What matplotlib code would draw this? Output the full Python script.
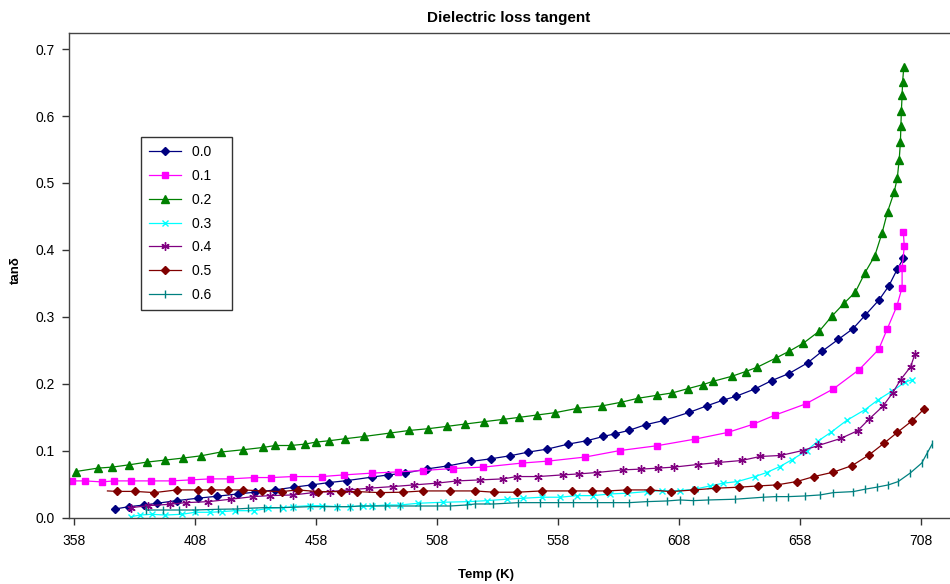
import numpy as np
import matplotlib
matplotlib.use('Agg')
import matplotlib.pyplot as plt

plt.rcParams['font.family'] = ['Liberation Sans', 'DejaVu Sans']

# Data (Temp in K, tan delta)
t_00 = [374.8, 380.6, 386.9, 392.3, 400.3, 409.0, 417.1, 425.5, 432.7, 441.0, 448.7, 456.1, 463.3, 470.8,
        480.9, 487.8, 494.7, 503.9, 512.6, 521.9, 530.1, 538.1, 545.7, 553.5, 562.2, 569.8, 576.7, 581.6,
        587.2, 594.2, 601.9, 612.2, 619.7, 626.0, 631.5, 639.4, 646.3, 653.4, 661.2, 667.2, 673.8, 679.9,
        684.9, 690.7, 694.7, 698.2, 700.7]
d_00 = [0.0127, 0.0162, 0.0187, 0.0213, 0.0252, 0.0288, 0.0318, 0.0352, 0.0378, 0.0412, 0.0453, 0.0487, 0.0522, 0.0552,
        0.0603, 0.0637, 0.0663, 0.0727, 0.0772, 0.0837, 0.0877, 0.0922, 0.0978, 0.1022, 0.1097, 0.1147, 0.1211, 0.1252,
        0.1301, 0.1387, 0.1451, 0.1571, 0.1672, 0.1751, 0.1811, 0.1922, 0.2046, 0.2151, 0.2312, 0.2486, 0.2661, 0.2822,
        0.3021, 0.3253, 0.3460, 0.3711, 0.3871]

t_01 = [356.9, 362.4, 369.3, 374.5, 381.4, 389.7, 398.3, 406.1, 414.2, 422.2, 432.4, 439.4, 448.5, 460.3,
        469.6, 480.9, 491.9, 502.0, 514.4, 527.1, 542.9, 553.9, 569.1, 583.6, 598.8, 614.7, 628.1, 638.4,
        647.8, 660.3, 671.8, 682.5, 690.5, 694.1, 698.0, 700.2, 700.2, 701.1, 700.7]
d_01 = [0.0547, 0.0547, 0.0532, 0.0547, 0.0547, 0.0547, 0.0547, 0.0562, 0.0577, 0.0577, 0.0597, 0.0597, 0.0612, 0.0612,
        0.0637, 0.0663, 0.0682, 0.0702, 0.0732, 0.0753, 0.0813, 0.0843, 0.0903, 0.1001, 0.1072, 0.1172, 0.1271, 0.1391,
        0.1532, 0.1697, 0.1922, 0.2211, 0.2511, 0.2822, 0.3156, 0.3436, 0.3726, 0.4051, 0.4270]

t_02 = [358.6, 367.7, 373.7, 380.6, 388.0, 395.5, 402.9, 410.4, 418.5, 427.6, 436.1, 441.0, 447.6, 453.4,
        457.9, 463.3, 469.9, 477.8, 488.5, 496.5, 504.3, 511.9, 519.6, 527.4, 535.3, 541.8, 549.4, 556.8,
        565.9, 576.0, 583.9, 590.9, 598.8, 605.2, 611.8, 618.0, 622.1, 629.9, 635.5, 640.3, 647.9, 653.6,
        659.4, 666.0, 671.2, 676.2, 680.9, 684.9, 688.9, 691.9, 694.2, 696.9, 698.2, 699.0, 699.5, 699.7,
        699.9, 700.2, 700.4, 700.9]
d_02 = [0.0687, 0.0738, 0.0753, 0.0787, 0.0828, 0.0858, 0.0888, 0.0922, 0.0978, 0.1012, 0.1047, 0.1076, 0.1076, 0.1097,
        0.1127, 0.1147, 0.1177, 0.1211, 0.1262, 0.1301, 0.1327, 0.1361, 0.1397, 0.1432, 0.1466, 0.1496, 0.1532, 0.1567,
        0.1631, 0.1667, 0.1721, 0.1781, 0.1826, 0.1862, 0.1927, 0.1987, 0.2036, 0.2111, 0.2181, 0.2246, 0.2381, 0.2486,
        0.2606, 0.2786, 0.3010, 0.3201, 0.3370, 0.3661, 0.3910, 0.4250, 0.4570, 0.4861, 0.5070, 0.5349, 0.5610, 0.5850,
        0.6079, 0.6309, 0.6510, 0.6729]

t_03 = [381.4, 385.2, 390.0, 395.5, 402.4, 407.9, 414.1, 418.9, 424.4, 432.4, 438.2, 444.4, 448.5, 455.4,
        460.3, 466.5, 472.0, 477.2, 480.9, 487.1, 492.6, 500.2, 510.5, 520.9, 528.5, 536.7, 543.6, 551.2,
        558.8, 565.7, 572.5, 579.4, 586.6, 594.6, 600.8, 608.4, 614.6, 620.8, 626.3, 632.1, 639.4, 644.2,
        649.7, 654.6, 660.8, 665.6, 670.7, 677.3, 684.9, 690.4, 695.9, 701.4, 704.4]
d_03 = [0.0012, 0.0037, 0.0048, 0.0037, 0.0048, 0.0078, 0.0078, 0.0087, 0.0102, 0.0102, 0.0138, 0.0147, 0.0162, 0.0177,
        0.0177, 0.0162, 0.0162, 0.0172, 0.0172, 0.0187, 0.0187, 0.0213, 0.0228, 0.0237, 0.0252, 0.0273, 0.0288, 0.0303,
        0.0303, 0.0327, 0.0327, 0.0352, 0.0363, 0.0387, 0.0402, 0.0402, 0.0423, 0.0472, 0.0513, 0.0537, 0.0612, 0.0672,
        0.0762, 0.0862, 0.1001, 0.1147, 0.1271, 0.1451, 0.1612, 0.1762, 0.1886, 0.2021, 0.2061]

t_04 = [381.4, 388.6, 397.6, 404.0, 413.4, 422.6, 432.0, 438.9, 448.5, 456.8, 463.7, 471.5, 479.9, 489.6,
        498.4, 507.8, 516.3, 525.7, 535.3, 540.9, 549.8, 559.9, 566.8, 573.9, 584.9, 592.1, 599.4, 605.9,
        615.7, 624.2, 633.9, 641.5, 650.0, 659.1, 665.6, 674.8, 681.8, 686.6, 692.2, 696.3, 699.6, 703.7,
        705.5]
d_04 = [0.0147, 0.0177, 0.0198, 0.0222, 0.0237, 0.0273, 0.0312, 0.0327, 0.0337, 0.0372, 0.0387, 0.0412, 0.0438, 0.0462,
        0.0487, 0.0513, 0.0547, 0.0562, 0.0577, 0.0612, 0.0612, 0.0637, 0.0652, 0.0672, 0.0712, 0.0723, 0.0738, 0.0753,
        0.0792, 0.0822, 0.0852, 0.0912, 0.0927, 0.1001, 0.1076, 0.1181, 0.1297, 0.1472, 0.1661, 0.1862, 0.2061, 0.2252,
        0.2441]

t_05 = [371.7, 375.8, 383.1, 391.1, 400.3, 409.0, 414.5, 421.4, 427.9, 435.5, 443.7, 450.3, 458.9, 468.2,
        475.0, 484.4, 493.7, 502.0, 513.3, 523.6, 531.5, 541.1, 551.2, 563.6, 571.9, 578.3, 586.3, 596.0,
        604.5, 614.2, 623.3, 632.8, 640.8, 648.4, 656.6, 663.8, 671.8, 679.6, 686.6, 692.8, 698.2, 704.4,
        709.3]
d_05 = [0.0397, 0.0390, 0.0390, 0.0372, 0.0412, 0.0412, 0.0412, 0.0412, 0.0412, 0.0397, 0.0387, 0.0412, 0.0387, 0.0387,
        0.0387, 0.0372, 0.0378, 0.0397, 0.0397, 0.0397, 0.0378, 0.0378, 0.0397, 0.0397, 0.0397, 0.0397, 0.0412, 0.0412,
        0.0387, 0.0412, 0.0438, 0.0453, 0.0472, 0.0487, 0.0537, 0.0612, 0.0678, 0.0777, 0.0937, 0.1112, 0.1271, 0.1447,
        0.1622]

t_06 = [387.6, 394.8, 401.3, 407.9, 417.3, 425.1, 429.9, 436.5, 443.0, 448.5, 455.4, 461.3, 466.5, 472.0,
        476.1, 481.6, 486.4, 492.6, 500.9, 507.8, 513.3, 520.2, 523.6, 531.2, 541.5, 550.5, 558.1, 564.3,
        573.9, 580.8, 587.4, 594.6, 602.9, 608.4, 613.9, 620.1, 631.1, 642.8, 647.9, 653.2, 660.1, 666.3,
        671.8, 680.0, 684.9, 689.7, 694.5, 698.6, 703.5, 708.3, 710.4, 712.7]
d_06 = [0.0112, 0.0112, 0.0112, 0.0112, 0.0123, 0.0127, 0.0138, 0.0147, 0.0147, 0.0153, 0.0162, 0.0162, 0.0162, 0.0162,
        0.0172, 0.0172, 0.0172, 0.0172, 0.0172, 0.0172, 0.0172, 0.0187, 0.0202, 0.0202, 0.0222, 0.0222, 0.0222, 0.0222,
        0.0222, 0.0222, 0.0222, 0.0237, 0.0247, 0.0262, 0.0252, 0.0262, 0.0273, 0.0303, 0.0312, 0.0312, 0.0322, 0.0337,
        0.0372, 0.0387, 0.0423, 0.0453, 0.0487, 0.0537, 0.0663, 0.0813, 0.0952, 0.1102]

labels = ['0.0', '0.1', '0.2', '0.3', '0.4', '0.5', '0.6']
x_ticks = [358, 408, 458, 508, 558, 608, 658, 708]
y_ticks = [0.0, 0.1, 0.2, 0.3, 0.4, 0.5, 0.6, 0.7]

fig = plt.figure(figsize=(9.5, 5.84), dpi=100)
ax = fig.add_axes([69 / 950, 66.5 / 584, 881 / 950, 484.8 / 584])

lw = 0.9
ax.plot(t_00, d_00, color='#000080', lw=lw, marker='D', ms=4.5, mec='#000080', mfc='#000080', label=labels[0])
ax.plot(t_01, d_01, color='#FF00FF', lw=lw, marker='s', ms=5, mec='#FF00FF', mfc='#FF00FF', label=labels[1])
ax.plot(t_02, d_02, color='#008000', lw=lw, marker='^', ms=6, mec='#008000', mfc='#008000', label=labels[2])
ax.plot(t_03, d_03, color='#00FFFF', lw=lw, marker='x', ms=5, mew=1.0, mec='#00FFFF', label=labels[3])
ax.plot(t_04, d_04, color='#800080', lw=lw, marker=(6, 2, 0), ms=6, mew=1.0, mec='#800080', label=labels[4])
ax.plot(t_05, d_05, color='#800000', lw=lw, marker='D', ms=4.5, mec='#800000', mfc='#800000',
        markevery=slice(1, None), label=labels[5])
ax.plot(t_06, d_06, color='#008080', lw=lw, marker='|', ms=6, mew=1.0, mec='#008080', label=labels[6])

ax.set_xlim(355.8, 720.0)
ax.set_ylim(0, 0.7245)
ax.set_xticks(x_ticks)
ax.set_xticklabels([str(v) for v in x_ticks])
ax.set_yticks(y_ticks)
ax.set_yticklabels(['%.1f' % v for v in y_ticks])
ax.tick_params(axis='both', direction='out', length=5, width=1, colors='#333333', labelsize=10, labelcolor='black')
ax.tick_params(axis='x', pad=7)
ax.tick_params(axis='y', pad=5)

for s in ['left', 'bottom', 'top']:
    ax.spines[s].set_color('#444444')
    ax.spines[s].set_linewidth(1.0)
ax.spines['right'].set_visible(False)

fig.text(509 / 950, 1 - 18 / 584, 'Dielectric loss tangent', ha='center', va='center',
         fontsize=11, fontweight='bold')
fig.text(486 / 950, 1 - 575 / 584, 'Temp (K)', ha='center', va='center', fontsize=9.5, fontweight='bold')
fig.text(16 / 950, 1 - 270 / 584, 'tan\u03b4', ha='center', va='center', rotation=90,
         fontsize=9.5, fontweight='bold')

leg = ax.legend(loc='upper left', bbox_to_anchor=(141 / 950, 1 - 137 / 584), bbox_transform=fig.transFigure,
                fontsize=10, frameon=True, fancybox=False, edgecolor='black', handlelength=2.3,
                labelspacing=0.7, borderpad=0.6, handletextpad=0.8, borderaxespad=0)
leg.get_frame().set_linewidth(1.0)
# widen the box on the right like the reference
for txt in leg.get_texts():
    txt.set_text(txt.get_text() + '   ')

fig.savefig('out.png', dpi=100, facecolor='white')
